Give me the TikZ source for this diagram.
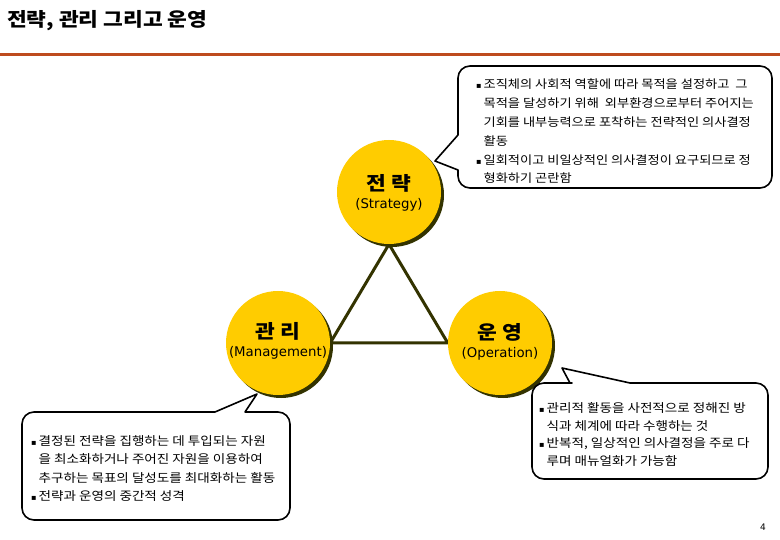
\documentclass[tikz,border=0pt]{standalone}
\usepackage{fontspec}
\setmainfont{Noto Sans CJK KR}
\newfontfamily\kr[FakeStretch=1.13]{Noto Sans CJK KR}
\newfontfamily\latinfont{DejaVu Sans}
\newfontfamily\symfont{DejaVu Sans}
\definecolor{gold}{RGB}{255,204,0}
\definecolor{olivedark}{RGB}{51,51,0}
\definecolor{rust}{RGB}{190,75,30}
\pgfdeclarelayer{back}
\pgfdeclarelayer{bg}
\pgfsetlayers{back,bg,main}
\newcommand{\bul}{{\symfont\fontsize{8}{8}\selectfont ▪}}
\begin{document}
\begin{tikzpicture}[x=1pt,y=-1pt,
  circ/.style={circle, fill=gold, minimum size=104pt, inner sep=0pt},
  circshadow/.style={circle, fill=olivedark, minimum size=104pt, inner sep=0pt},
  link/.style={draw=olivedark, line width=3pt, line join=round},
  callout/.style={draw=black, line width=1.6pt, fill=white, line join=round},
  body/.style={anchor=base west, inner sep=0pt},
  kor/.style={font=\kr\fontsize{19}{19}\selectfont\bfseries, inner sep=0pt},
  eng/.style={font=\latinfont\fontsize{13.3}{13}\selectfont, inner sep=0pt},
]
\useasboundingbox (0,0) rectangle (780,540);
\begin{pgfonlayer}{back}
\fill[white] (0,0) rectangle (780,540);
\end{pgfonlayer}
\node[anchor=west, inner sep=0pt, font=\kr\fontsize{19}{19}\selectfont\bfseries] (title) at (7,21) {전략, 관리 그리고 운영};
\draw[rust, line width=3pt] (0,55) -- (780,55);

% circles with shadows
\node[circshadow] (Ssh) at (392,195) {};
\node[circshadow] (Msh) at (281,346) {};
\node[circshadow] (Osh) at (503,346) {};
\node[circ] (S) at (389,192) {};
\node[circ] (M) at (278,343) {};
\node[circ] (O) at (500,343) {};
\begin{pgfonlayer}{bg}
\draw[link] (M.east) -- (S.south) -- (O.west) -- cycle;
\end{pgfonlayer}

\node[kor] (Sk) at (389,183) {전 략};
\node[eng] (Se) at (389,205) {(Strategy)};
\node[kor] (Mk) at (278,331) {관 리};
\node[eng] (Me) at (278,353) {(Management)};
\node[kor] (Ok) at (500,332) {운 영};
\node[eng] (Oe) at (500,354) {(Operation)};

% callout: strategy
\coordinate (tipS) at (435,161);
\draw[callout] (458,174) [rounded corners=12pt] -- (458,188) -- (772,188) -- (772,66) -- (458,66) -- (458,120) [sharp corners] -- (458,135) -- (tipS) -- (458,170) -- cycle;
\node[body, font=\kr\fontsize{11.7}{18.8}\selectfont] (St) at (476,89) {\begin{tabular}[t]{@{}l@{\hspace{2pt}}l@{}}
\bul & 조직체의 사회적 역할에 따라 목적을 설정하고 \ 그\\
 & 목적을 달성하기 위해 \ 외부환경으로부터 주어지는\\
 & 기회를 내부능력으로 포착하는 전략적인 의사결정\\
 & 활동\\
\bul & 일회적이고 비일상적인 의사결정이 요구되므로 정\\
 & 형화하기 곤란함
\end{tabular}};

% callout: management
\coordinate (tipM) at (257,394);
\draw[callout] (200,412) [sharp corners] -- (215,412) -- (tipM) -- (245,412) -- (258,412) [rounded corners=12pt] -- (290,412) -- (290,520) -- (22,520) -- (22,412) -- cycle;
\node[body, font=\kr\fontsize{12}{18.5}\selectfont] (Mt) at (31,445) {\begin{tabular}[t]{@{}l@{\hspace{2pt}}l@{}}
\bul & 결정된 전략을 집행하는 데 투입되는 자원\\
 & 을 최소화하거나 주어진 자원을 이용하여\\
 & 추구하는 목표의 달성도를 최대화하는 활동\\
\bul & 전략과 운영의 중간적 성격
\end{tabular}};

% callout: operation
\coordinate (tipO) at (562,368);
\draw[callout] (560,383) [sharp corners] -- (570,383) -- (tipO) -- (630,383) -- (645,383) [rounded corners=12pt] -- (768,383) -- (768,479) -- (532,479) -- (532,383) -- cycle;
\node[body, font=\kr\fontsize{12}{17.5}\selectfont] (Ot) at (539,413) {\begin{tabular}[t]{@{}l@{\hspace{2pt}}l@{}}
\bul & 관리적 활동을 사전적으로 정해진 방\\
 & 식과 체계에 따라 수행하는 것\\
\bul & 반복적, 일상적인 의사결정을 주로 다\\
 & 루며 매뉴얼화가 가능함
\end{tabular}};

\node[inner sep=0pt, font=\latinfont\fontsize{9}{9}\selectfont] (page) at (763,527) {4};
\end{tikzpicture}
\end{document}
